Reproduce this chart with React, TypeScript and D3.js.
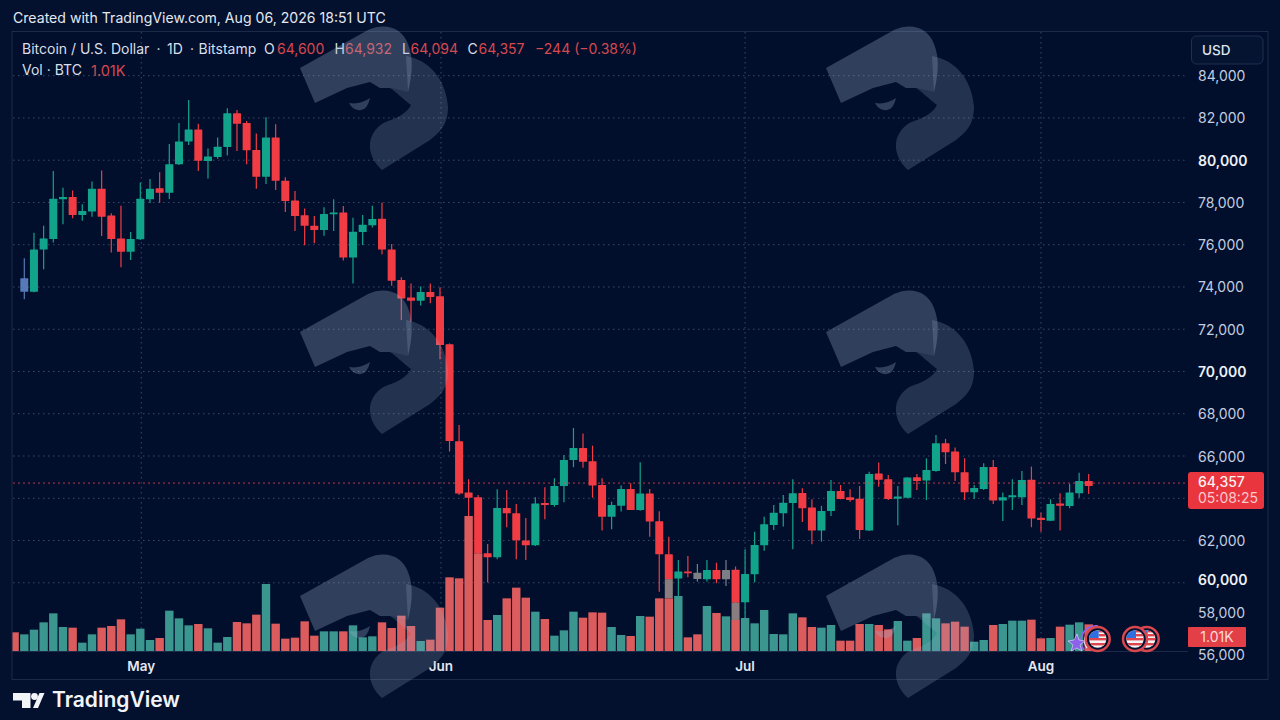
import React, { useEffect } from "react";
import * as d3 from "d3";

// ---------- data ----------
const highs = [75360,76570,76900,79490,78700,78570,77910,78990,79510,77490,77850,76600,78940,79110,79430,80770,81760,82850,81730,80560,81070,82460,82380,81860,81270,82030,81700,79190,78540,77720,77360,77770,78150,77830,77280,77410,77850,77990,76040,74460,74170,74020,74170,73970,71330,67470,64900,64160,61840,64430,64390,63730,63070,64050,64520,64950,66050,67330,67060,66490,64950,63840,64600,64710,65700,64440,63380,62180,61080,61270,60890,61080,60950,61080,60770,61590,62420,63130,63680,64160,64900,64470,63950,63640,64870,64630,64430,64580,65260,65690,65100,64580,64990,65150,65890,67000,66810,66400,65890,64630,65660,65810,64270,64900,65290,65500,63320,63950,64240,64680,65210,65150];
const opens = [73780,73780,75770,76270,78150,78260,77410,77570,78650,77380,76300,75670,76260,78150,78670,78460,79810,80880,81450,79960,80150,80630,82220,81760,80480,79220,81080,79030,78090,77390,76900,76700,77440,77530,75400,76600,76920,77230,75780,74330,73500,73350,73760,73560,71290,66700,64270,64050,61400,61210,63540,63290,62000,61780,63780,63680,64580,65810,66380,65750,64630,63130,63650,64440,63450,64220,62910,61350,60200,60530,60480,60170,60610,60170,60620,59080,60400,61780,62740,63290,63780,64250,63560,62470,63400,64350,64050,63980,62480,65170,64900,63980,64030,64990,64840,65290,66600,66210,65230,64280,64440,65480,63900,64050,64050,64880,63080,62940,63750,63640,64240,64820];
const closes = [74410,75780,76290,78180,78260,77410,77600,78650,77330,76270,75670,76270,78180,78650,78460,79810,80890,81450,79980,80170,80640,82220,81730,80470,79220,81080,79030,78070,77360,76900,76700,77460,77530,75390,76620,76940,77220,75780,74300,73460,73350,73760,73530,71260,66710,64220,64030,61400,61210,63540,63290,62010,61780,63750,63680,64580,65810,66380,65730,64610,63130,63680,64440,63450,64220,62900,61350,60170,60530,60450,60180,60610,60170,60610,59060,60420,61790,62770,63320,63790,64240,63530,62470,63400,64350,63970,63920,62500,65150,64880,63970,64080,64980,64820,65340,66600,66180,65230,64280,64490,65480,63890,64050,64140,64870,63040,62970,63730,63650,64270,64820,64580];
const lows = [73420,73750,74840,76100,76970,77250,77140,77330,76410,75630,74930,75280,76220,77980,77990,78170,79770,80720,79490,79140,80070,80220,80440,79810,78650,78870,78590,77550,76650,75970,76070,76430,76650,75250,74170,75990,76810,75550,74060,72440,72360,73120,73230,70580,66210,64160,63050,61320,60010,61110,62630,61110,61080,61740,63010,63600,63810,65470,65450,64030,62470,62530,63370,63450,63410,62180,59580,59270,59350,60260,60060,60060,59980,59850,58240,58240,60020,61520,62500,62660,61590,62880,61820,61950,63160,63950,63840,62070,62450,64550,63920,62720,64000,64390,63920,65260,65620,64820,63920,63970,64390,63730,62930,63450,63680,62630,62420,62930,62470,63530,64030,64200];
const volumes = [1200,1536,2064,2712,1728,1680,600,1200,1680,1800,2280,1200,1608,792,936,2904,2352,1848,1944,1632,600,1008,2088,1992,2616,4824,1968,888,960,2136,1104,1416,1416,1416,1848,984,1056,2064,1656,2544,1800,720,816,3120,5304,5232,9720,7032,2232,2592,3792,4560,3840,2832,2304,1104,1488,2832,2400,2784,2760,1728,1152,1080,2520,2472,3792,3792,3960,984,1200,3240,2736,2496,2232,2376,1992,2952,1224,1200,2712,2424,1728,1680,1872,744,744,1944,1944,1872,1560,2160,744,936,2712,2352,1992,2112,1752,672,792,1872,1944,2184,2184,2256,912,936,1752,1896,2064,1920];
const volumeBeforeFirstCandle = 1344;
const fadedCandles = [70, 73];
const blueCandles = [0];
const fadedStretches = [[67, 60170, 59270], [74, 59060, 58240]];
const priceTicks = [84000,82000,80000,78000,76000,74000,72000,70000,68000,66000,64000,62000,60000];
const priceLabels = [84000,82000,80000,78000,76000,74000,72000,70000,68000,66000,62000,60000,58000,56000];
const monthLabels = ["May", "Jun", "Jul", "Aug"];
const monthSlots = [12.1, 43.1, 75, 106];
const lastLineLevel = 64720;
const titleParts: [string, number][] = [["Bitcoin / U.S. Dollar", 22], ["\u00b7", 156.5], ["1D", 167], ["\u00b7", 190], ["Bitstamp", 198.5]];
const legendValues: [string, string, number, number][] = [["O", "64,600", 264, 277], ["H", "64,932", 334.5, 345], ["L", "64,094", 402, 410.5], ["C", "64,357", 467.5, 478.5]];

// ---------- palette ----------
const BG = "#03112f";
const UP = "#12a48b";
const DOWN = "#f23c44";
const VUP = "#3a968f";
const VDOWN = "#dc5c5e";
const TEXT = "#d9dfea";
const RED_TEXT = "#d8484f";
const FONT = "Inter, 'Noto Sans', sans-serif";

const x = d3.scaleLinear().domain([0, 43, 73, 111]).range([24.3, 440, 726, 1088.7]);
const y = d3.scaleLinear().domain([84000, 56000]).range([75.7, 667.3]);
const yVol = d3.scaleLinear().domain([0, 10000]).range([651, 512.1]);
const fmt = d3.format(",");

const Eagle = ({ dx, dy }: { dx: number; dy: number }) => (
  <g transform={`translate(${dx},${dy})`} fill="#9db0cc">
    <path opacity={0.3} d="M10,48 L78,10 C96,2 112,8 118,24 C124,38 122,56 118,72 L100,68 L90,68 L80,62 L57,68 L25,83 Z" />
    <path opacity={0.22} d="M116,36 C140,40 156,60 158,87 C158,105 150,112 140,120 L92,150 C84,143 79,133 80,123 C81,114 88,104 98,101 C108,98 118,92 121,85 C112,78 106,72 100,68 L118,72 Z" />
    <path opacity={0.3} d="M59,83 Q70,85 80,78 Q77,92 68,90 Q62,89 59,83 Z" />
  </g>
);

const FlagBadge = ({ cx, cy }: { cx: number; cy: number }) => {
  const id = `flag-${Math.round(cx)}`;
  return (
    <g>
      <circle cx={cx} cy={cy} r={12} fill={BG} stroke="#d8474e" strokeWidth={2.5} />
      <clipPath id={id}><circle cx={cx} cy={cy} r={8.7} /></clipPath>
      <g clipPath={`url(#${id})`}>
        <rect x={cx - 9} y={cy - 9} width={18} height={18} fill="#f4f4f6" />
        <rect x={cx - 9} y={cy - 1} width={18} height={2.4} fill="#e0444c" />
        <rect x={cx - 9} y={cy + 4} width={18} height={2.4} fill="#e0444c" />
        <rect x={cx + 1} y={cy - 9} width={8} height={2.4} fill="#e0444c" />
        <rect x={cx + 1} y={cy - 5} width={8} height={2.4} fill="#e0444c" />
        <rect x={cx - 9} y={cy - 9} width={10} height={8} fill="#2f6fe0" />
      </g>
    </g>
  );
};

export default function App() {
  useEffect(() => {
    document.body.style.margin = "0";
    document.body.style.background = BG;
  }, []);
  const w = 8;
  return (
    <svg width={1280} height={720} style={{ display: "block", position: "absolute", top: 0, left: 0 }} fontFamily={FONT}>
      <rect width={1280} height={720} fill={BG} />
      <clipPath id="plot"><rect x={12.5} y={32} width={1175.5} height={619} /></clipPath>
      <rect x={12} y={31.5} width={1256} height={648} fill="#020f2c" stroke="#1b2a48" />
      <line x1={12} x2={1188} y1={651.5} y2={651.5} stroke="#1b2a48" />

      {priceTicks.map((t) => (
        <line key={t} x1={13} x2={1188} y1={y(t)} y2={y(t)} stroke="#6f83a6" strokeOpacity={0.5} strokeDasharray="1.5 3.5" />
      ))}
      {monthSlots.map((m) => (
        <line key={m} x1={x(m)} x2={x(m)} y1={32} y2={651} stroke="#6f83a6" strokeOpacity={0.5} strokeDasharray="1.5 3.5" />
      ))}

      <g clipPath="url(#plot)">
        {opens.map((o, i) => {
          const c = closes[i];
          const color = blueCandles.includes(i) ? "#5679b8" : fadedCandles.includes(i) ? "#7c7f86" : c >= o ? UP : DOWN;
          return (
            <g key={i}>
              <line x1={x(i)} x2={x(i)} y1={y(highs[i])} y2={y(lows[i])} stroke={color} strokeWidth={1.2} />
              <rect x={x(i) - w / 2} width={w} y={y(Math.max(o, c))} height={Math.max(1.5, y(Math.min(o, c)) - y(Math.max(o, c)))} fill={color} rx={0.5} />
            </g>
          );
        })}
        {fadedStretches.map(([i, top, bottom]) => (
          <rect key={i} x={x(i) - w / 2} width={w} y={y(top)} height={y(bottom) - y(top)} fill="#8a7d80" />
        ))}
        <rect x={x(-1) - 4.2} width={8.4} y={yVol(volumeBeforeFirstCandle)} height={651 - yVol(volumeBeforeFirstCandle)} fill={VDOWN} />
        {volumes.map((v, i) => (
          <rect key={i} x={x(i) - 4.2} width={8.4} y={yVol(v)} height={651 - yVol(v)} fill={closes[i] >= opens[i] ? VUP : VDOWN} />
        ))}
      </g>

      <line x1={13} x2={1188} y1={y(lastLineLevel)} y2={y(lastLineLevel)} stroke="#e8454b" strokeOpacity={0.8} strokeDasharray="2 3" />

      <text x={13} y={18} dy="0.35em" fontSize={14.1} fill="#e4e8f0">Created with TradingView.com, Aug 06, 2026 18:51 UTC</text>
      {titleParts.map(([t, px], i) => (
        <text key={i} x={px} y={49.5} dy="0.35em" fontSize={14} fill={TEXT}>{t}</text>
      ))}
      {legendValues.map(([k, v, kx, vx]) => (
        <g key={k}>
          <text x={kx} y={49.5} dy="0.35em" fontSize={14} fill={TEXT}>{k}</text>
          <text x={vx} y={49.5} dy="0.35em" fontSize={14} fill={RED_TEXT}>{v}</text>
        </g>
      ))}
      <text x={535} y={49.5} dy="0.35em" fontSize={14} fill={RED_TEXT}>{"\u2212244 (\u22120.38%)"}</text>
      <text x={22} y={70.5} dy="0.35em" fontSize={14} fill={TEXT}>{"Vol \u00b7 BTC"}</text>
      <text x={91} y={70.5} dy="0.35em" fontSize={14.5} fill={RED_TEXT}>1.01K</text>

      <rect x={1191.5} y={36} width={71.5} height={28} rx={5} fill="#041431" stroke="#1f2f50" />
      <text x={1202} y={50.5} dy="0.35em" fontSize={13.5} fontWeight={500} fill="#dfe5ef">USD</text>

      {priceLabels.map((t) => {
        const strong = t % 10000 === 0;
        const label = t === 58000 ? 613.5 : t === 56000 ? 655.5 : t === 60000 ? 580 : y(t) + 0.6;
        return (
          <text key={t} x={1198} y={label} dy="0.35em" fontSize={14} fontWeight={strong ? 600 : 400} fill={strong ? "#eef2f8" : "#c3cde0"}>{fmt(t)}</text>
        );
      })}

      <rect x={1188} y={472} width={76} height={37} rx={3} fill="#e8353e" />
      <text x={1198} y={482.5} dy="0.35em" fontSize={14} fontWeight={500} fill="#fbf1f1">64,357</text>
      <text x={1198} y={498.5} dy="0.35em" fontSize={14} fill="#fbc9cb">05:08:25</text>
      <rect x={1188} y={627} width={58} height={20} rx={1} fill="#e23f46" />
      <text x={1217} y={637} dy="0.35em" textAnchor="middle" fontSize={14} fill="#fbdada">1.01K</text>

      {monthLabels.map((m, i) => (
        <text key={m} x={x(monthSlots[i])} y={666.5} dy="0.35em" textAnchor="middle" fontSize={13.5} fontWeight={600} fill="#e4e9f2">{m}</text>
      ))}

      {/* event badges */}
      <path d="M1098,626 A15,15 0 0 0 1084,650" fill="none" stroke="#8d62ea" strokeWidth={1.8} />
      <path d="M1098,629 A12,12 0 0 0 1087,648" fill="none" stroke="#e8e4fa" strokeWidth={1.4} />
      <path d="M1077,634 L1079,640 L1085,641 L1080,645 L1082,651 L1077,648 L1071,651 L1073,645 L1068,641 L1074,640 Z" fill="#8d62ea" stroke="#e8e4fa" strokeWidth={0.6} />
      <FlagBadge cx={1097.7} cy={639} />
      <FlagBadge cx={1146.7} cy={639} />
      <FlagBadge cx={1135} cy={639} />

      {/* TradingView mark */}
      <g fill="#f2f4f8">
        <path d="M13,693 H30.5 V708 H22 V700.5 H13 Z" />
        <circle cx={34.5} cy={696.5} r={3.4} />
        <path d="M33,708 L39.5,693 H44.5 L38,708 Z" />
      </g>
      <text x={52} y={700} dy="0.35em" fontSize={21} fontWeight={600} fill="#f2f4f8">TradingView</text>

      {[290, 816].map((dx) =>
        [20, 284, 548].map((dy) => <Eagle key={`${dx}-${dy}`} dx={dx} dy={dy} />)
      )}
    </svg>
  );
}
